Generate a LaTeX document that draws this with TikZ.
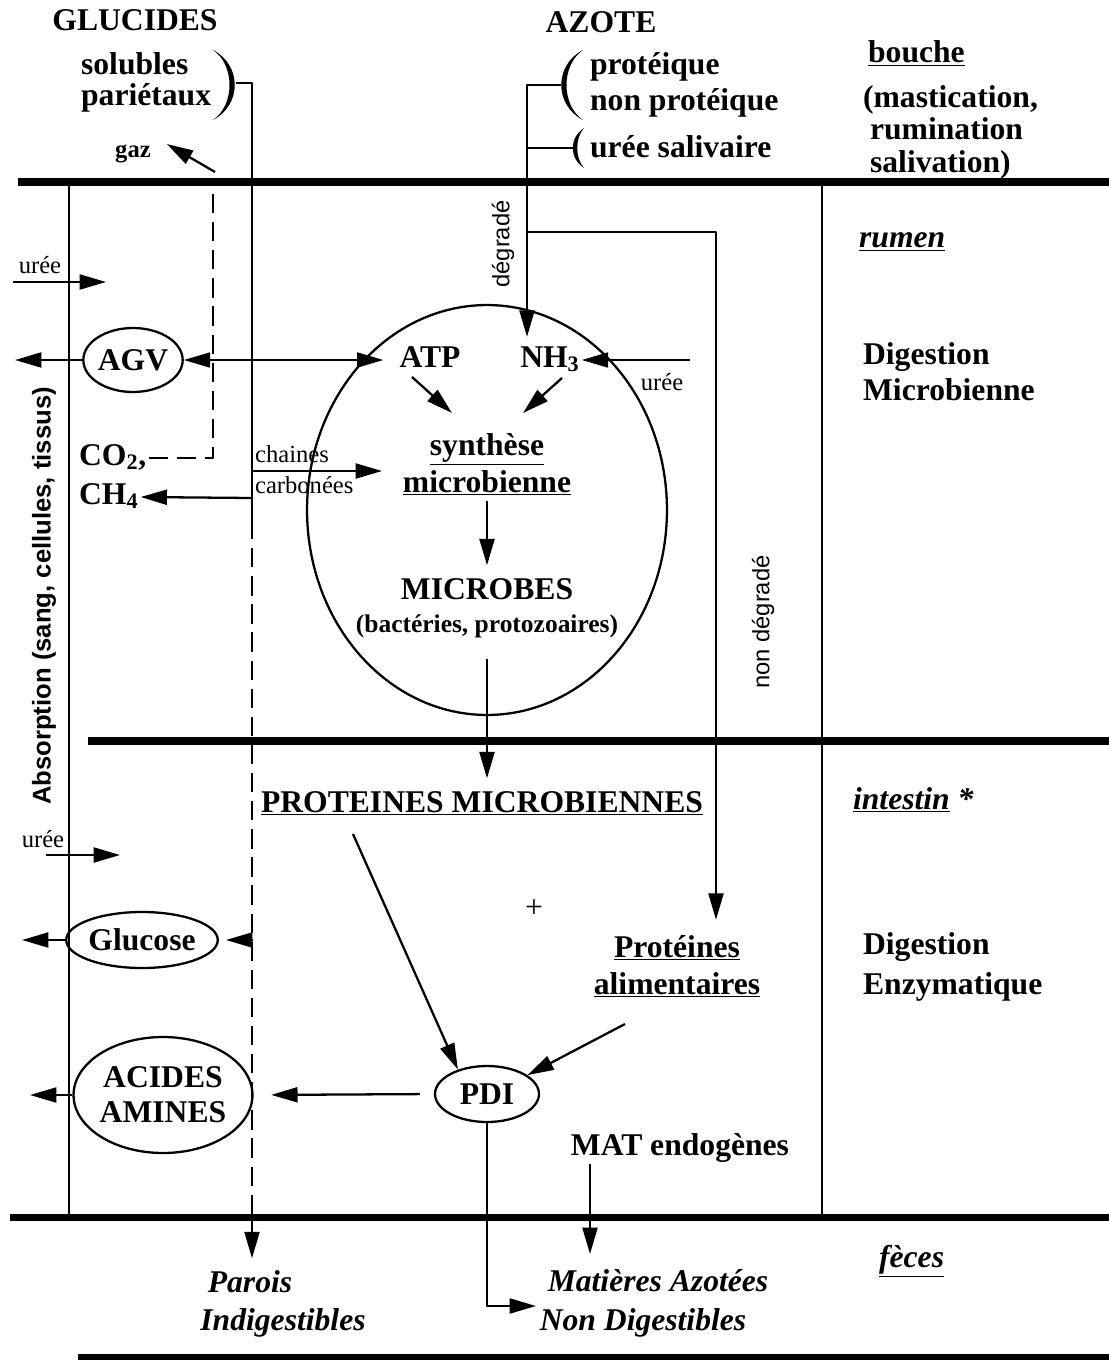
\documentclass[tikz,border=0pt]{standalone}
\usepackage{fontspec}
\setmainfont{Liberation Serif}
\setsansfont{Liberation Sans}
\usetikzlibrary{arrows.meta,shapes.geometric,positioning}
\tikzset{
  every picture/.style={line join=round, >={Triangle[length=15pt,width=8.5pt]}},
  flow/.style={line width=1.3pt},
  gasflow/.style={line width=1.3pt, dash pattern=on 11pt off 5pt},
  wall/.style={line width=4pt},
  blob/.style={draw, ellipse, line width=1.3pt, inner sep=0pt},
  lab/.style={font=\fontsize{18}{20}\selectfont\bfseries, text height=12pt, text depth=4pt, inner sep=1pt},
  labit/.style={lab, font=\fontsize{18}{20}\selectfont\bfseries\itshape},
  note/.style={font=\fontsize{14}{16}\selectfont, text height=9.5pt, text depth=3pt, inner sep=1pt},
  side/.style={font=\fontsize{13.5}{15}\selectfont\sffamily, rotate=90, inner sep=1pt},
}

\begin{document}
\begin{tikzpicture}[x=0.02cm, y=-0.02cm]
\useasboundingbox (0,0) rectangle (1109,1360);

% compartments
\draw[wall] (18,182) -- (1109,182);
\draw[wall] (88,741) -- (1109,741);
\draw[wall] (10,1217) -- (1109,1217);
\draw[line width=3pt] (78,1357) -- (1109,1357);
\draw[flow] (69,182) -- (69,1217);
\draw[flow] (822,182) -- (822,1217);

% right column
\node[lab, anchor=west] (bouche) at (866,55) {\underline{bouche}};
\node[lab, anchor=west] (mast) at (861,100) {(mastication,};
\node[lab, anchor=west] (rumin) at (868,132) {rumination};
\node[lab, anchor=west] (saliv) at (868,165) {salivation)};
\node[labit, anchor=west] (rumenlab) at (857,240) {\underline{rumen}};
\node[lab, anchor=west] (dig1) at (861,357) {Digestion};
\node[lab, anchor=west] (micro1) at (861,393) {Microbienne};
\node[labit, anchor=west] (intestin) at (851,802) {\underline{intestin} *};
\node[lab, anchor=west] (dig2) at (861,947) {Digestion};
\node[lab, anchor=west] (enzy) at (861,987) {Enzymatique};
\node[labit, anchor=west] (feces) at (877,1260) {\underline{fèces}};

% glucides
\node[lab] (glucides) at (135,23) {GLUCIDES};
\node[lab, anchor=west] (solubles) at (79,67) {solubles};
\node[lab, anchor=west] (parietaux) at (79,98) {pariétaux};
\fill (213,50) .. controls (242,65) and (242,105) .. (213,120)
  .. controls (235,105) and (235,65) .. (213,50) -- cycle;
\coordinate (gparen) at (236,83);
\coordinate (gtop) at (252,83);
\coordinate (gsplit) at (252,520);
\coordinate (gwall) at (252,1217);
\draw[flow] (gparen) -- (gtop) -- (gsplit);
\draw[gasflow] (gsplit) -- (gwall);

% azote
\node[lab] (azote) at (601,25) {AZOTE};
\node[lab, anchor=west] (proteique) at (588,67) {protéique};
\node[lab, anchor=west] (nonprot) at (588,103) {non protéique};
\node[lab, anchor=west] (ureesal) at (588,150) {urée salivaire};
\fill (583,50) .. controls (554,65) and (554,105) .. (583,120)
  .. controls (561,105) and (561,65) .. (583,50) -- cycle;
\fill (584,128) .. controls (569,138) and (569,158) .. (584,168)
  .. controls (575,158) and (575,138) .. (584,128) -- cycle;
\coordinate (azparen) at (561,85);
\coordinate (azline) at (527,85);
\coordinate (salparen) at (574,148);
\coordinate (salline) at (527,148);
\coordinate (fork) at (527,232);
\coordinate (bypass) at (716,232);
\node[side] (deg) at (503,244) {dégradé};
\node[side] (nondeg) at (763,622) {non dégradé};

% rumen
\node[blob, minimum width=7.2cm, minimum height=8.2cm] (rum) at (487,510) {};
\node[lab] (atp) at (430,360) {ATP};
\node[lab] (nh3) at (550,360) {NH\textsubscript{3}};
\node[lab] (synth) at (487,448) {\underline{synthèse}};
\node[lab] (microb) at (487,485) {\underline{microbienne}};
\node[lab] (microbes) at (487,592) {MICROBES};
\node[note, font=\fontsize{14.5}{16}\selectfont\bfseries] (bact) at (487,627) {(bactéries, protozoaires)};
\node[note] (ureenhlab) at (662,385) {urée};
\coordinate (ureenh) at (690,360);

\draw[flow] (azparen) -- (azline) -- (fork);
\draw[flow] (salparen) -- (salline);
\draw[flow,->, shorten >=4pt] (fork) -- (nh3.north -| fork);
\draw[flow,->] (ureenh) -- (nh3.east);
\draw[flow,->] ([shift={(-18,17)}]atp.center) -- ([shift={(-35,-35)}]synth.center);
\draw[flow,->] ([shift={(12,18)}]nh3.center) -- ([shift={(36,-35)}]synth.center);
\draw[flow,->, shorten >=6pt] (microb.south) -- (microbes.north);

% gaz, AGV
\node[note, font=\fontsize{14}{16}\selectfont\bfseries] (gaz) at (133,152) {gaz};
\coordinate (gasvent) at (213,182);
\node[blob, lab, inner sep=0pt, text depth=0pt, minimum width=1.64cm, minimum height=1.28cm] (agv) at (133,360) {AGV};
\node[lab, anchor=west] (co2) at (77,458) {CO\textsubscript{2},};
\node[lab, anchor=west] (ch4) at (77,497) {CH\textsubscript{4}};
\node[note, anchor=west] (chaines) at (253,457) {chaines};
\node[note, anchor=west] (carbonees) at (253,488) {carbonées};
\coordinate (gch4) at (252,498);
\coordinate (gcc) at (252,471);
\coordinate (ccin) at (382,471);
\coordinate (agvout) at (15,360);
\node[note] (uree1) at (40,268) {urée};
\coordinate (uree1in) at (13,282);
\coordinate (uree1to) at (106,282);

\draw[gasflow] (co2.east) -- (co2.east -| gasvent) -- (gasvent);
\draw[flow,->] ([shift={(2,-10)}]gasvent) -- ([shift={(14,-8)}]gaz.east);
\draw[flow,<->] (agv.east) -- ([xshift=-8pt]atp.west);
\draw[flow,->] (agv.west) -- (agvout);
\draw[flow,->] (gch4) -- (ch4.east);
\draw[flow,->] (gcc) -- (ccin);
\draw[flow,->] (uree1in) -- (uree1to);

\node[font=\fontsize{14.6}{16}\selectfont\sffamily\bfseries, rotate=90] (absorb) at (44,596) {Absorption (sang, cellules, tissus)};

% intestin
\node[lab] (protmic) at (482,805) {\underline{PROTEINES MICROBIENNES}};
\node[font=\fontsize{18}{20}\selectfont] (plus) at (534,909) {+};
\node[lab] (protal) at (677,950) {\underline{Protéines}};
\node[lab] (alim) at (677,987) {\underline{alimentaires}};
\node[blob, lab, inner sep=0pt, text depth=0pt, minimum width=2.08cm, minimum height=1.12cm] (pdi) at (487,1094) {PDI};
\node[blob, lab, inner sep=0pt, text depth=0pt, minimum width=2.48cm, minimum height=1.12cm] (glucose) at (142,940) {Glucose};
\node[blob, font=\fontsize{18}{20}\selectfont\bfseries, align=center, minimum width=3.12cm, minimum height=2.32cm] (acides) at (163,1095) {ACIDES\\AMINES};
\node[lab] (mat) at (680,1148) {MAT endogènes};
\node[note] (uree2) at (43,842) {urée};
\coordinate (uree2in) at (46,855);
\coordinate (uree2to) at (120,855);
\coordinate (gglu) at (252,940);
\coordinate (gluout) at (22,940);
\coordinate (aaout) at (30,1095);
\coordinate (matin) at (590,1254);

\draw[flow,->, shorten >=8pt] (fork) -- (bypass) -- (bypass |- protal.north);
\draw[flow,->, shorten <=11pt, shorten >=6pt] (bact.south) -- (bact.south |- protmic.north);
\draw[flow,->] ([shift={(-129,29)}]protmic.center) -- (pdi.140);
\draw[flow,->] ([shift={(-52,37)}]alim.center) -- (pdi.25);
\draw[flow,->, shorten <=8pt, shorten >=10pt] (pdi.west) -- (acides.east);
\draw[flow,->] (acides.west) -- (aaout);
\draw[flow,->, shorten >=4pt] (gglu) -- (glucose.east);
\draw[flow,->] (glucose.west) -- (gluout);
\draw[flow,->] (uree2in) -- (uree2to);

% feces
\node[labit] (parois) at (250,1285) {Parois};
\node[labit] (indig) at (283,1323) {Indigestibles};
\node[labit] (matazo) at (658,1284) {Matières Azotées};
\node[labit] (nondig) at (643,1323) {Non Digestibles};
\coordinate (ndin) at (536,1306);

\draw[flow,->, shorten >=6pt] (gwall) -- (gwall |- parois.north);
\draw[flow,->] (mat.south -| matin) -- (matin);
\draw[flow,->] (pdi.south) -- (pdi.south |- ndin) -- (ndin);
\end{tikzpicture}
\end{document}
